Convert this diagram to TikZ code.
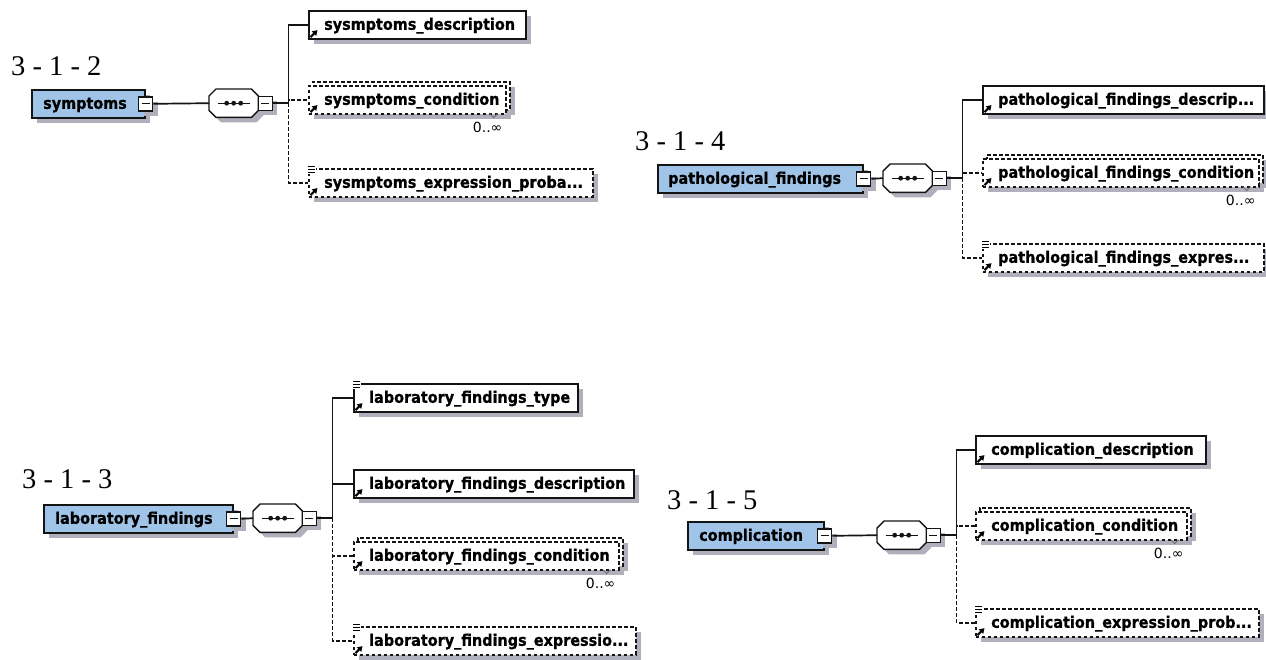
\documentclass[tikz,border=0pt]{standalone}
\usepackage{fontspec}
\setmainfont{Liberation Serif}
\newfontfamily\boxfont[FakeStretch=0.9, BoldFeatures={FakeBold=0.8}]{DejaVu Sans}
\newfontfamily\multfont{DejaVu Sans}
\usetikzlibrary{calc,arrows.meta}

\definecolor{elemblue}{RGB}{160,196,232}
\definecolor{shadowgray}{RGB}{176,176,188}
\definecolor{edge}{RGB}{20,20,20}
\definecolor{tickgray}{RGB}{110,110,110}

\tikzset{
  conn/.style={draw=edge, line width=1.7pt},
  optline/.style={dash pattern=on 3.5pt off 2.5pt},
  boxshadow/.style={preaction={fill=shadowgray, transform canvas={shift={(5pt,-5pt)}}}},
  multshadow/.style={preaction={fill=shadowgray, transform canvas={shift={(5pt,-5pt)}}},
                     preaction={fill=shadowgray, transform canvas={shift={(1pt,-9pt)}}}},
  elembox/.style={draw=edge, line width=1.6pt, minimum height=28pt, inner sep=0pt, anchor=north west},
  rootbox/.style={elembox, fill=elemblue, boxshadow},
  leafbox/.style={elembox, fill=white, boxshadow},
  optbox/.style={elembox, fill=white, optline},
  minusbox/.style={draw=edge, line width=1.4pt, fill=white, minimum size=14pt, inner sep=0pt, boxshadow,
    path picture={\draw[edge, line width=1.3pt] ([xshift=3pt]path picture bounding box.west) -- ([xshift=-3pt]path picture bounding box.east);}},
  seqframe/.style={minimum width=49pt, minimum height=28pt, inner sep=0pt, anchor=north west},
  seqline/.style={draw=edge, line width=1.4pt, fill=white},
  boxtext/.style={font=\boxfont\bfseries\fontsize{16}{18}\selectfont, inner sep=0pt, anchor=west,
    text height=13pt, text depth=3pt, text=black},
  numlabel/.style={font=\fontsize{28.5}{30}\selectfont, inner sep=0pt, anchor=base west},
  multlabel/.style={font=\multfont\fontsize{14}{16}\selectfont, inner sep=0pt, anchor=north east},
  refarrow/.style={draw=black, line width=2pt, -{Triangle[length=5pt,width=6pt]}},
  marklines/.style={draw=black, line width=1pt},
}

% reference arrow in the lower left corner of an element box
\newcommand\refmark[1]{\draw[refarrow] ([shift={(2.5pt,2.5pt)}]#1.south west) -- ++(7,-7);}
% simple-content mark in the upper left corner of an element box
\newcommand\simplemark[1]{%
  \fill[white] ([shift={(-1pt,2.5pt)}]#1.north west) rectangle ([shift={(7.5pt,-6pt)}]#1.north west);
  \draw[marklines] ([shift={(0pt,1.5pt)}]#1.north west) -- ++(6.5,0)
                   ([shift={(0pt,-1.5pt)}]#1.north west) -- ++(6.5,0)
                   ([shift={(0pt,-4.5pt)}]#1.north west) -- ++(6.5,0);}
% sequence compositor: octagon with three dots and a collapse box
\newcommand\seqgroup[3]{%
  \node[seqframe] (#1) at (#2,#3) {};
  \draw[seqline, boxshadow]
    ([xshift=7pt]#1.north west) -- ([xshift=-7pt]#1.north east) -- ([yshift=-7pt]#1.north east)
    -- ([yshift=7pt]#1.south east) -- ([xshift=-7pt]#1.south east) -- ([xshift=7pt]#1.south west)
    -- ([yshift=7pt]#1.south west) -- ([yshift=-7pt]#1.north west) -- cycle;
  \draw[edge, line width=1.4pt] ([xshift=-16pt]#1.center) -- ([xshift=16pt]#1.center);
  \fill[edge] ([xshift=-7pt]#1.center) circle[radius=2.4pt] (#1.center) circle[radius=2.4pt]
              ([xshift=7pt]#1.center) circle[radius=2.4pt];
  \node[minusbox] (#1-m) at ([xshift=7pt]#1.east) {};}
% repeated element: stacked pair of dashed boxes
\newcommand\multbox[4]{%
  \node[optbox, multshadow, minimum width=#4pt] (#1b) at (#2+4,#3-4) {};
  \node[optbox, minimum width=#4pt] (#1) at (#2,#3) {};}
% occurrence note under a repeated element
\newcommand\multnote[1]{%
  \draw[tickgray, line width=1pt] ([shift={(-17pt,1pt)}]#1.south east) -- ++(4,4) -- ++(4,-4);
  \node[multlabel] (#1-n) at ([shift={(-4pt,-7pt)}]#1.south east) {0..∞};}

\begin{document}
\begin{tikzpicture}[x=1pt,y=-1pt]
\useasboundingbox[fill=white] (0,0) rectangle (1266,659);

%% ---------- 3-1-2 symptoms ----------
\node[numlabel] (A-num) at (11,75) {3 - 1 - 2};
\node[rootbox, minimum width=113pt] (A-root) at (31,89) {};
\node[boxtext] (A-roott) at ([xshift=12pt]A-root.west) {symptoms};
\node[minusbox] (A-rm) at (A-root.east) {};
\seqgroup{A-seq}{209}{89}
\draw[conn] (A-rm.east) -- (A-seq.west);
\draw[conn] (A-seq-m.east) -- ++(15.5,0) coordinate (A-bus);

\node[leafbox, minimum width=217pt] (A-c1) at (308,10) {};
\node[boxtext] (A-c1t) at ([xshift=16pt]A-c1.west) {sysmptoms\_description};
\refmark{A-c1}
\multbox{A-c2}{308}{85}{197}
\node[boxtext] (A-c2t) at ([xshift=16pt]A-c2.west) {sysmptoms\_condition};
\refmark{A-c2}
\multnote{A-c2}
\node[optbox, boxshadow, minimum width=284pt] (A-c3) at (308,168) {};
\node[boxtext] (A-c3t) at ([xshift=16pt]A-c3.west) {sysmptoms\_expression\_proba...};
\simplemark{A-c3}
\refmark{A-c3}

\draw[conn, optline] (A-bus) |- (A-c2.west);
\draw[conn, optline] (A-bus) |- (A-c3.west);
\draw[conn] (A-bus) |- (A-c1.west);

%% ---------- 3-1-4 pathological findings ----------
\node[numlabel] (B-num) at (635,150) {3 - 1 - 4};
\node[rootbox, minimum width=205pt] (B-root) at (657,164) {};
\node[boxtext] (B-roott) at ([xshift=11pt]B-root.west) {pathological\_findings};
\node[minusbox] (B-rm) at (B-root.east) {};
\seqgroup{B-seq}{883}{164}
\draw[conn] (B-rm.east) -- (B-seq.west);
\draw[conn] (B-seq-m.east) -- ++(15.5,0) coordinate (B-bus);

\node[leafbox, minimum width=281pt] (B-c1) at (982,85) {};
\node[boxtext] (B-c1t) at ([xshift=16pt]B-c1.west) {pathological\_findings\_descrip...};
\refmark{B-c1}
\multbox{B-c2}{982}{158}{276}
\node[boxtext] (B-c2t) at ([xshift=16pt]B-c2.west) {pathological\_findings\_condition};
\refmark{B-c2}
\multnote{B-c2}
\node[optbox, boxshadow, minimum width=281pt] (B-c3) at (982,243) {};
\node[boxtext] (B-c3t) at ([xshift=16pt]B-c3.west) {pathological\_findings\_expres...};
\simplemark{B-c3}
\refmark{B-c3}

\draw[conn, optline] (B-bus) |- (B-c2.west);
\draw[conn, optline] (B-bus) |- (B-c3.west);
\draw[conn] (B-bus) |- (B-c1.west);

%% ---------- 3-1-3 laboratory findings ----------
\node[numlabel] (C-num) at (22,488) {3 - 1 - 3};
\node[rootbox, minimum width=189pt] (C-root) at (43,504) {};
\node[boxtext] (C-roott) at ([xshift=12pt]C-root.west) {laboratory\_findings};
\node[minusbox] (C-rm) at (C-root.east) {};
\seqgroup{C-seq}{253}{504}
\draw[conn] (C-rm.east) -- (C-seq.west);
\draw[conn] (C-seq-m.east) -- ++(15.5,0) coordinate (C-bus);

\node[leafbox, minimum width=224pt] (C-c1) at (353,383) {};
\node[boxtext] (C-c1t) at ([xshift=16pt]C-c1.west) {laboratory\_findings\_type};
\simplemark{C-c1}
\refmark{C-c1}
\node[leafbox, minimum width=280pt] (C-c2) at (353,469) {};
\node[boxtext] (C-c2t) at ([xshift=16pt]C-c2.west) {laboratory\_findings\_description};
\refmark{C-c2}
\multbox{C-c3}{353}{541}{265}
\node[boxtext] (C-c3t) at ([xshift=16pt]C-c3.west) {laboratory\_findings\_condition};
\refmark{C-c3}
\multnote{C-c3}
\node[optbox, boxshadow, minimum width=282pt] (C-c4) at (353,626) {};
\node[boxtext] (C-c4t) at ([xshift=16pt]C-c4.west) {laboratory\_findings\_expressio...};
\simplemark{C-c4}
\refmark{C-c4}

\draw[conn, optline] (C-bus) |- (C-c3.west);
\draw[conn, optline] (C-bus) |- (C-c4.west);
\draw[conn] (C-bus) |- (C-c1.west);
\draw[conn] (C-bus) |- (C-c2.west);

%% ---------- 3-1-5 complication ----------
\node[numlabel] (D-num) at (667,509) {3 - 1 - 5};
\node[rootbox, minimum width=136pt] (D-root) at (687,521) {};
\node[boxtext] (D-roott) at ([xshift=12pt]D-root.west) {complication};
\node[minusbox] (D-rm) at (D-root.east) {};
\seqgroup{D-seq}{877}{521}
\draw[conn] (D-rm.east) -- (D-seq.west);
\draw[conn] (D-seq-m.east) -- ++(15.5,0) coordinate (D-bus);

\node[leafbox, minimum width=230pt] (D-c1) at (975,435) {};
\node[boxtext] (D-c1t) at ([xshift=16pt]D-c1.west) {complication\_description};
\refmark{D-c1}
\multbox{D-c2}{975}{511}{211}
\node[boxtext] (D-c2t) at ([xshift=16pt]D-c2.west) {complication\_condition};
\refmark{D-c2}
\multnote{D-c2}
\node[optbox, boxshadow, minimum width=283pt] (D-c3) at (975,608) {};
\node[boxtext] (D-c3t) at ([xshift=16pt]D-c3.west) {complication\_expression\_prob...};
\simplemark{D-c3}
\refmark{D-c3}

\draw[conn, optline] (D-bus) |- (D-c2.west);
\draw[conn, optline] (D-bus) |- (D-c3.west);
\draw[conn] (D-bus) |- (D-c1.west);
\end{tikzpicture}
\end{document}
